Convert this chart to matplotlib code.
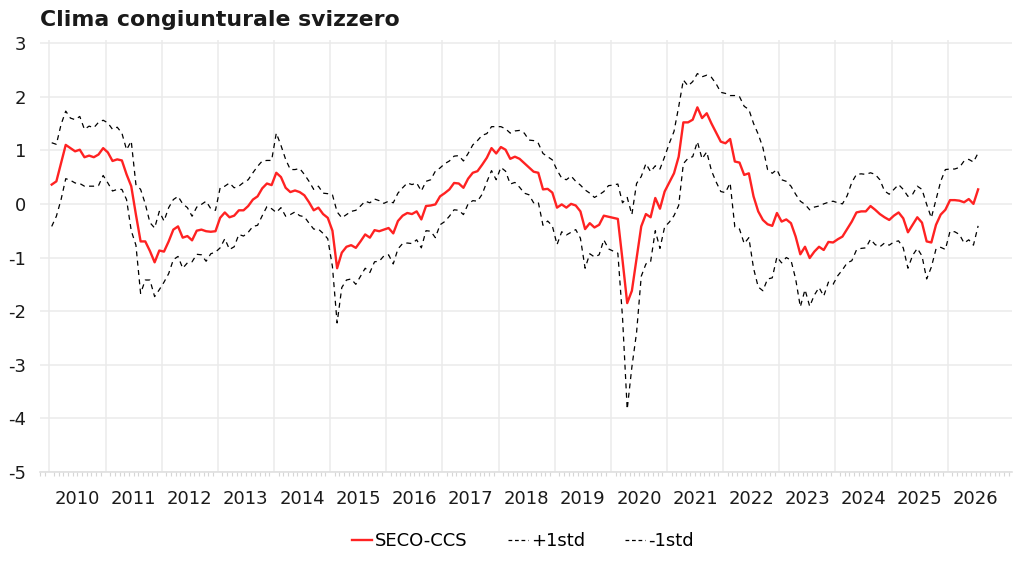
import numpy as np
import matplotlib
matplotlib.use("Agg")
import matplotlib.pyplot as plt
from matplotlib.lines import Line2D

plt.rcParams["axes.unicode_minus"] = False

# monthly values, Jan 2010 onwards (one row per year)
seco_ccs = [
    0.36, 0.42, 0.76, 1.10, 1.04, 0.98, 1.01, 0.87, 0.90, 0.87, 0.92, 1.04,
    0.96, 0.80, 0.83, 0.81, 0.55, 0.33, -0.20, -0.70, -0.70, -0.88, -1.09, -0.87,
    -0.89, -0.70, -0.48, -0.42, -0.63, -0.60, -0.68, -0.50, -0.48, -0.51, -0.52, -0.51,
    -0.26, -0.16, -0.25, -0.22, -0.12, -0.12, -0.04, 0.08, 0.14, 0.29, 0.38, 0.35,
    0.58, 0.50, 0.30, 0.22, 0.25, 0.22, 0.16, 0.03, -0.12, -0.07, -0.19, -0.26,
    -0.50, -1.20, -0.91, -0.80, -0.77, -0.82, -0.70, -0.57, -0.63, -0.49, -0.51, -0.48,
    -0.45, -0.55, -0.32, -0.22, -0.17, -0.19, -0.14, -0.29, -0.04, -0.03, -0.01, 0.14,
    0.20, 0.27, 0.39, 0.38, 0.30, 0.47, 0.58, 0.61, 0.73, 0.86, 1.04, 0.94,
    1.06, 1.01, 0.84, 0.88, 0.84, 0.76, 0.68, 0.60, 0.58, 0.27, 0.28, 0.21,
    -0.07, -0.01, -0.07, 0.00, -0.03, -0.14, -0.47, -0.36, -0.44, -0.39, -0.22, -0.24,
    -0.26, -0.28, -1.05, -1.85, -1.62, -1.02, -0.42, -0.19, -0.25, 0.11, -0.09, 0.23,
    0.40, 0.57, 0.88, 1.52, 1.52, 1.57, 1.80, 1.60, 1.69, 1.50, 1.33, 1.16,
    1.13, 1.21, 0.79, 0.77, 0.54, 0.57, 0.14, -0.14, -0.30, -0.38, -0.41, -0.17,
    -0.33, -0.29, -0.36, -0.61, -0.94, -0.80, -1.01, -0.89, -0.80, -0.86, -0.71, -0.72,
    -0.66, -0.61, -0.47, -0.33, -0.16, -0.14, -0.14, -0.04, -0.11, -0.19, -0.25, -0.30,
    -0.22, -0.16, -0.27, -0.53, -0.39, -0.25, -0.35, -0.70, -0.72, -0.39, -0.20, -0.11,
    0.07, 0.07, 0.06, 0.03, 0.09, 0.00, 0.27,
]

plus_1std = [
    1.14, 1.11, 1.48, 1.73, 1.60, 1.57, 1.63, 1.39, 1.45, 1.42, 1.52, 1.56,
    1.51, 1.39, 1.43, 1.32, 1.01, 1.17, 0.36, 0.27, 0.00, -0.35, -0.45, -0.14,
    -0.32, -0.07, 0.08, 0.14, 0.00, -0.07, -0.23, -0.06, -0.01, 0.05, -0.09, -0.12,
    0.30, 0.33, 0.39, 0.30, 0.33, 0.40, 0.45, 0.58, 0.70, 0.80, 0.81, 0.81,
    1.32, 1.09, 0.83, 0.64, 0.64, 0.66, 0.55, 0.42, 0.27, 0.33, 0.20, 0.19,
    0.17, -0.15, -0.26, -0.20, -0.14, -0.12, -0.04, 0.05, 0.02, 0.09, 0.06, 0.01,
    0.05, 0.02, 0.20, 0.30, 0.39, 0.36, 0.39, 0.24, 0.42, 0.45, 0.61, 0.67,
    0.75, 0.80, 0.89, 0.90, 0.80, 0.94, 1.10, 1.18, 1.28, 1.31, 1.44, 1.44,
    1.44, 1.40, 1.32, 1.36, 1.37, 1.32, 1.19, 1.18, 1.13, 0.94, 0.88, 0.82,
    0.63, 0.48, 0.45, 0.52, 0.42, 0.35, 0.26, 0.20, 0.12, 0.17, 0.23, 0.34,
    0.35, 0.37, 0.02, 0.12, -0.20, 0.38, 0.51, 0.75, 0.60, 0.71, 0.65, 0.88,
    1.13, 1.35, 1.81, 2.31, 2.20, 2.28, 2.43, 2.37, 2.40, 2.36, 2.24, 2.08,
    2.06, 2.02, 2.02, 2.00, 1.82, 1.76, 1.50, 1.30, 1.05, 0.64, 0.57, 0.64,
    0.45, 0.42, 0.33, 0.18, 0.05, -0.01, -0.11, -0.06, -0.04, 0.00, 0.03, 0.05,
    0.02, 0.00, 0.15, 0.40, 0.55, 0.56, 0.55, 0.58, 0.55, 0.45, 0.24, 0.18,
    0.27, 0.36, 0.27, 0.14, 0.18, 0.33, 0.27, -0.01, -0.26, 0.08, 0.42, 0.64,
    0.65, 0.65, 0.68, 0.80, 0.83, 0.78, 0.95,
]

minus_1std = [
    -0.42, -0.23, 0.08, 0.47, 0.44, 0.39, 0.38, 0.33, 0.33, 0.33, 0.34, 0.53,
    0.39, 0.24, 0.27, 0.27, 0.08, -0.50, -0.77, -1.67, -1.42, -1.42, -1.73, -1.60,
    -1.46, -1.30, -1.04, -0.98, -1.20, -1.10, -1.08, -0.94, -0.95, -1.07, -0.93, -0.90,
    -0.82, -0.65, -0.85, -0.80, -0.57, -0.60, -0.53, -0.42, -0.40, -0.22, -0.05, -0.09,
    -0.16, -0.07, -0.23, -0.20, -0.15, -0.22, -0.24, -0.36, -0.47, -0.47, -0.55, -0.65,
    -1.17, -2.22, -1.56, -1.42, -1.40, -1.50, -1.35, -1.20, -1.28, -1.08, -1.07, -0.97,
    -0.95, -1.12, -0.84, -0.74, -0.73, -0.74, -0.67, -0.82, -0.50, -0.51, -0.63, -0.39,
    -0.33, -0.23, -0.11, -0.12, -0.20, 0.00, 0.06, 0.05, 0.18, 0.41, 0.62, 0.45,
    0.68, 0.61, 0.37, 0.40, 0.31, 0.20, 0.17, 0.02, 0.03, -0.40, -0.32, -0.41,
    -0.76, -0.52, -0.58, -0.53, -0.48, -0.64, -1.20, -0.93, -0.99, -0.95, -0.67, -0.84,
    -0.88, -0.92, -2.12, -3.83, -3.04, -2.40, -1.35, -1.12, -1.08, -0.50, -0.83, -0.43,
    -0.34, -0.22, -0.03, 0.75, 0.85, 0.88, 1.16, 0.84, 0.97, 0.62, 0.41, 0.23,
    0.21, 0.39, -0.43, -0.47, -0.74, -0.63, -1.20, -1.55, -1.62, -1.40, -1.38, -0.99,
    -1.10, -1.00, -1.05, -1.40, -1.92, -1.60, -1.91, -1.70, -1.56, -1.72, -1.46, -1.50,
    -1.34, -1.23, -1.10, -1.06, -0.86, -0.83, -0.82, -0.66, -0.76, -0.80, -0.73, -0.77,
    -0.71, -0.69, -0.82, -1.20, -0.96, -0.83, -0.97, -1.40, -1.18, -0.84, -0.81, -0.85,
    -0.51, -0.52, -0.57, -0.73, -0.67, -0.77, -0.41,
]

years = list(range(2010, 2027))
start_year = 2010

# mid-month positions in decimal years
t = start_year + (np.arange(len(seco_ccs)) + 0.5) / 12

fig = plt.figure(figsize=(10.24, 5.76), dpi=100)
ax = fig.add_axes([40 / 1024, 104 / 576, 972 / 1024, 432 / 576])

ax.plot(t, plus_1std, color="black", lw=0.9, ls=(0, (4, 3.5)))
ax.plot(t, minus_1std, color="black", lw=0.9, ls=(0, (4, 3.5)))
ax.plot(t, seco_ccs, color="#ff2222", lw=1.7)

ax.set_xlim(2009.834, 2027.145)
ax.set_ylim(-5, 3.056)
ax.set_yticks(range(-5, 4))
ax.set_yticklabels([str(v) for v in range(-5, 4)])

# gridlines at year starts, labels in mid-year
ax.set_xticks(years)
ax.set_xticklabels([])
ax.set_xticks(np.arange(2009 + 10 / 12, 2027.15, 1 / 12), minor=True)
ax.grid(True, which="major", color="#ebebeb", lw=1.1)
ax.set_axisbelow(True)
ax.tick_params(axis="x", which="major", length=0)
ax.tick_params(axis="x", which="minor", length=3, width=0.8, color="#d6d6d6")
ax.tick_params(axis="y", length=0, pad=10, labelsize=13, labelcolor="#1a1a1a")

for side in ["top", "right", "left"]:
    ax.spines[side].set_visible(False)
ax.spines["bottom"].set_color("#e0e0e0")
ax.spines["bottom"].set_linewidth(1.2)

sec = ax.secondary_xaxis("bottom")
sec.set_xticks([y + 0.5 for y in years])
sec.set_xticklabels([str(y) for y in years])
sec.tick_params(length=0, pad=13, labelsize=13, labelcolor="#1a1a1a")
sec.spines["bottom"].set_visible(False)

fig.text(40 / 1024, 1 - 20 / 576, "Clima congiunturale svizzero",
         fontsize=15.8, fontweight="bold", ha="left", va="center", color="#1a1a1a")

handles = [
    Line2D([], [], color="#ff2222", lw=1.7),
    Line2D([], [], color="black", lw=0.9, ls=(0, (3, 2.2))),
    Line2D([], [], color="black", lw=0.9, ls=(0, (3, 2.2))),
]
fig.legend(handles, ["SECO-CCS", "+1std", "-1std"], loc="center",
           bbox_to_anchor=(523 / 1024, 1 - 541 / 576), ncol=3, frameon=False,
           fontsize=13, handlelength=1.1, handletextpad=0.2, columnspacing=2.2)

fig.savefig("out.png", dpi=100)
